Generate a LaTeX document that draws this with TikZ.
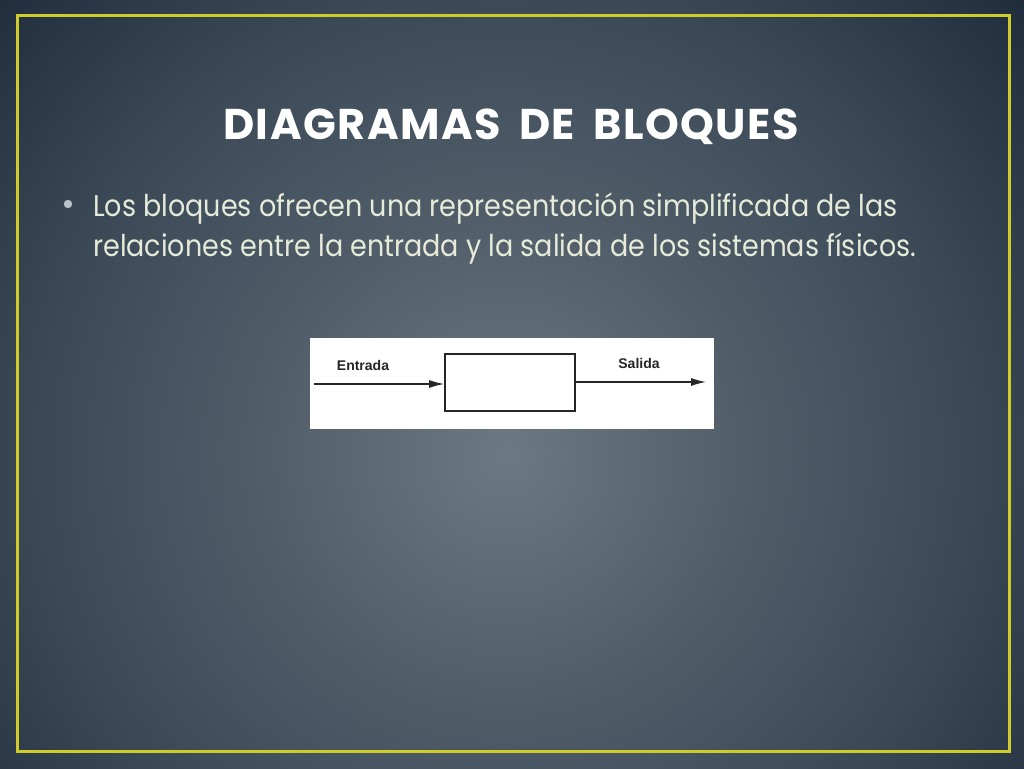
\documentclass[tikz,border=0pt]{standalone}
\usepackage{fontspec}
\setmainfont{Poppins}
\newfontfamily\bodyf[FakeStretch=0.9]{Poppins}
\newfontfamily\arialf{Liberation Sans}
\usetikzlibrary{arrows.meta}
\definecolor{bgA}{HTML}{6C7883}
\definecolor{bgB}{HTML}{4F5C68}
\definecolor{bgC}{HTML}{3A4856}
\definecolor{bgD}{HTML}{243241}
\definecolor{bgE}{HTML}{1B2937}
\definecolor{frameY}{HTML}{CFCC2A}
\definecolor{bodyT}{HTML}{E6EAD8}
\definecolor{bulletC}{HTML}{B8C2C8}
\pgfdeclareradialshading{slidebg}{\pgfpoint{0bp}{0bp}}{color(0bp)=(bgA); color(9bp)=(bgB); color(16.5bp)=(bgC); color(22.5bp)=(bgD); color(25bp)=(bgE); color(50bp)=(bgE)}
\begin{document}
\begin{tikzpicture}[x=1pt,y=-1pt,
  titletext/.style={font=\fontsize{43}{43}\selectfont\bfseries, text=white, inner sep=0pt, anchor=base},
  bodytext/.style={font=\bodyf\fontsize{30}{40}\selectfont, text=bodyT, inner sep=0pt, anchor=base west},
  blockbox/.style={draw=black!85, line width=1.6pt, fill=white, minimum width=130pt, minimum height=57pt, inner sep=0pt},
  sigline/.style={draw=black!85, line width=1.3pt, -{Latex[length=15pt,width=8pt]}},
  siglabel/.style={font=\arialf\bfseries\fontsize{14}{14}\selectfont, text=black!85, inner sep=0pt}
]
\useasboundingbox (0,0) rectangle (1024,768);
\begin{scope}
\clip (0,0) rectangle (1024,768);
\shade[shading=slidebg] (505,455) circle (720);
\end{scope}
% frame
\draw[frameY, line width=3pt] (17,16) rectangle (1009,751);
% title
\node[titletext] (title) at (511,139) {D\kern1.5pt I\kern1.5pt A\kern1.5pt G\kern1.5pt R\kern1.5pt A\kern1.5pt M\kern1.5pt A\kern1.5pt S\ \ D\kern1.5pt E\ \ B\kern1.5pt L\kern1.5pt O\kern1.5pt Q\kern1.5pt U\kern1.5pt E\kern1.5pt S};
% bullet
\fill[bulletC] (68,204) circle (4.2);
\node[bodytext] (line1) at (93,216) {Los bloques ofrecen una representación simplificada de las};
\node[bodytext] (line2) at (93,256) {relaciones entre la entrada y la salida de los sistemas físicos.};
% figure
\fill[white] (310,338) rectangle (714,429);
\node[blockbox] (blk) at (510,382.5) {};
\coordinate (inA) at (314,384);
\coordinate (outB) at (706,382);
\draw[sigline] (inA) -- (blk.west |- inA);
\draw[sigline] (blk.east |- outB) -- (outB);
\node[siglabel] (lin) at (363,365) {Entrada};
\node[siglabel] (lout) at (639,363) {Salida};
\end{tikzpicture}
\end{document}
